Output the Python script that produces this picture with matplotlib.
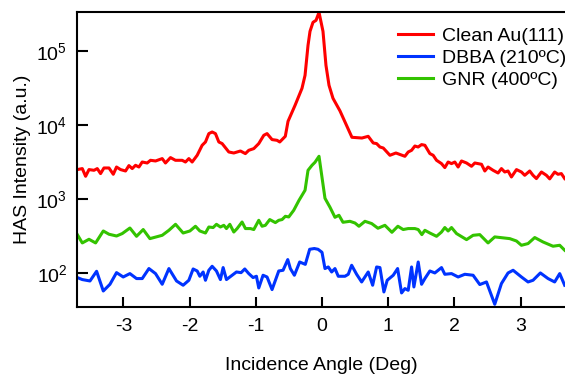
import numpy as np
import matplotlib
matplotlib.use("Agg")
import matplotlib.pyplot as plt
from matplotlib.ticker import LogLocator, NullLocator

plt.rcParams['font.family'] = ['Liberation Sans', 'DejaVu Sans']
plt.rcParams['axes.unicode_minus'] = False

# Clean Au(111)
au_x = [-3.695, -3.620, -3.570, -3.519, -3.443, -3.394, -3.344, -3.293, -3.217, -3.152,
        -3.103, -3.042, -2.967, -2.916, -2.866, -2.816, -2.765, -2.715, -2.640, -2.590,
        -2.514, -2.413, -2.364, -2.288, -2.213, -2.112, -2.062, -2.011, -1.961, -1.885,
        -1.810, -1.760, -1.709, -1.659, -1.609, -1.558, -1.508, -1.407, -1.332, -1.232,
        -1.157, -1.106, -1.030, -0.955, -0.879, -0.830, -0.754, -0.679, -0.638, -0.554,
        -0.513, -0.407, -0.302, -0.256, -0.211, -0.181, -0.136, -0.090, -0.045, 0.015,
        0.060, 0.106, 0.166, 0.271, 0.377, 0.452, 0.603, 0.698, 0.774, 0.825,
        0.875, 0.925, 1.026, 1.116, 1.252, 1.302, 1.353, 1.403, 1.452, 1.504,
        1.554, 1.629, 1.679, 1.730, 1.805, 1.855, 1.905, 1.956, 2.006, 2.056,
        2.107, 2.183, 2.258, 2.308, 2.409, 2.459, 2.508, 2.584, 2.659, 2.710,
        2.760, 2.810, 2.861, 2.937, 3.012, 3.062, 3.137, 3.187, 3.238, 3.314,
        3.389, 3.439, 3.514, 3.564, 3.615, 3.665]
au_y = [2520, 2600, 2045, 2520, 2465, 2600, 2225, 2650, 2650, 2178,
        2730, 2520, 2412, 2853, 2600, 2880, 2730, 3190, 3095, 3365,
        3295, 3548, 3095, 3660, 3365, 3365, 3190, 3548, 3190, 3933,
        5370, 5950, 7725, 8120, 7725, 5950, 5660, 4357, 4225, 4495,
        4145, 4593, 4842, 5660, 7325, 7725, 6410, 6270, 5950, 7100,
        11320, 18620, 31620, 47400, 120500, 186200, 246600, 262400, 336500, 186200,
        64700, 34750, 23170, 15700, 9690, 6885, 6730, 7100, 5765, 5660,
        5090, 4935, 3933, 4225, 3811, 4357, 4593, 5250, 5090, 5485,
        5370, 4145, 3933, 3365, 3035, 2682, 3190, 3035, 3190, 2730,
        3295, 3095, 2793, 3095, 2972, 2412, 2730, 2465, 2267, 2600,
        2338, 2412, 2002, 2520, 2338, 2110, 2412, 2110, 1905, 2338,
        2110, 1888, 2338, 2178, 2225, 1905]

# DBBA (210 C)
dbba_x = [-3.695, -3.620, -3.504, -3.404, -3.303, -3.202, -3.103, -3.002, -2.901, -2.801,
          -2.715, -2.614, -2.514, -2.413, -2.312, -2.197, -2.097, -2.011, -1.946, -1.885,
          -1.845, -1.795, -1.760, -1.709, -1.659, -1.594, -1.534, -1.493, -1.443, -1.357,
          -1.292, -1.222, -1.166, -1.106, -1.041, -0.990, -0.955, -0.890, -0.830, -0.754,
          -0.653, -0.588, -0.517, -0.478, -0.417, -0.337, -0.252, -0.186, -0.116, -0.060,
          0.0, 0.045, 0.095, 0.146, 0.196, 0.246, 0.347, 0.397, 0.448, 0.523,
          0.599, 0.698, 0.765, 0.825, 0.875, 0.935, 0.985, 1.076, 1.142, 1.202,
          1.252, 1.302, 1.353, 1.388, 1.453, 1.504, 1.554, 1.629, 1.704, 1.805,
          1.855, 1.956, 2.056, 2.157, 2.282, 2.383, 2.484, 2.609, 2.710, 2.810,
          2.886, 3.012, 3.112, 3.187, 3.298, 3.414, 3.514, 3.590, 3.665]
dbba_y = [87.5, 82.2, 78.7, 106.4, 57.6, 71.0, 102, 89.1, 99, 84.8,
          84.8, 115.8, 99, 71, 115.8, 78.7, 68.9, 80.4, 114.3, 107.4,
          91.1, 104.1, 80.4, 109.8, 124.3, 107.4, 82.2, 119.4, 82.2, 94,
          104.1, 102, 114.3, 99, 87.5, 91.1, 63.3, 94, 89.1, 60.2,
          107.4, 109.8, 153, 115.8, 94, 142, 132, 211, 216, 211,
          192, 115.8, 121.7, 104.1, 115.8, 91.1, 91.1, 96.9, 128.3, 96.9,
          76.3, 104.1, 68.9, 121.7, 119.4, 55.9, 80.4, 94, 115.8, 54.2,
          62.1, 58.9, 121.7, 65.3, 142, 71, 84.8, 107.4, 101, 119.4,
          96.9, 99, 89.1, 96.9, 94, 70.4, 76.3, 38.1, 72.6, 101,
          109.8, 89.1, 76.3, 80.4, 101, 84.8, 76.3, 99, 68.9]

# GNR (400 C)
gnr_x = [-3.695, -3.620, -3.519, -3.419, -3.303, -3.217, -3.103, -3.017, -2.901, -2.801,
         -2.700, -2.599, -2.413, -2.312, -2.212, -2.097, -1.995, -1.911, -1.845, -1.760,
         -1.709, -1.644, -1.594, -1.534, -1.483, -1.443, -1.392, -1.332, -1.282, -1.207,
         -1.156, -1.081, -1.030, -0.955, -0.905, -0.855, -0.789, -0.704, -0.653, -0.603,
         -0.553, -0.502, -0.427, -0.347, -0.256, -0.211, -0.151, -0.106, -0.045, 0.0,
         0.045, 0.121, 0.196, 0.256, 0.317, 0.422, 0.498, 0.558, 0.649, 0.750,
         0.845, 0.950, 1.056, 1.146, 1.226, 1.302, 1.403, 1.453, 1.508, 1.554,
         1.629, 1.730, 1.805, 1.855, 1.905, 1.956, 2.032, 2.183, 2.282, 2.383,
         2.508, 2.609, 2.836, 2.937, 3.012, 3.112, 3.213, 3.338, 3.489, 3.590, 3.665]
gnr_y = [333, 257, 288, 257, 373, 337, 319, 344, 409, 316,
         390, 294, 326, 381, 459, 350, 373, 432, 373, 350,
         422, 415, 459, 422, 445, 402, 459, 361, 402, 493,
         402, 402, 390, 520, 432, 445, 532, 484, 520, 532,
         589, 577, 710, 969, 1324, 2465, 2880, 3162, 3811, 1984,
         1032, 780, 571, 608, 489, 504, 478, 432, 504, 470,
         406, 445, 358, 432, 390, 402, 402, 390, 333, 381,
         350, 316, 361, 415, 373, 415, 344, 285, 326, 333,
         257, 310, 294, 273, 239, 252, 304, 265, 232, 239, 205]

labels = ['Clean Au(111)', 'DBBA (210ºC)', 'GNR (400ºC)']
colors = ['#ff0000', '#0033ff', '#33c300']

fig = plt.figure(figsize=(5.65, 3.74), dpi=100)
ax = fig.add_axes([77/565, 67/374, 488/565, 295/374])

ax.plot(au_x, au_y, color=colors[0], lw=2.2, label=labels[0])
ax.plot(dbba_x, dbba_y, color=colors[1], lw=2.2, label=labels[1])
ax.plot(gnr_x, gnr_y, color=colors[2], lw=2.2, label=labels[2])

ax.set_yscale('log')
ax.set_xlim(-3.7, 3.67)
ax.set_ylim(35, 3.4e5)
ax.yaxis.set_major_locator(LogLocator(base=10, numticks=10))
ax.yaxis.set_minor_locator(NullLocator())
ax.set_xticks([-3, -2, -1, 0, 1, 2, 3])

ax.spines['right'].set_visible(False)
for s in ['left', 'top', 'bottom']:
    ax.spines[s].set_linewidth(1.5)
ax.tick_params(axis='both', direction='in', labelsize=14, width=1.5)
ax.tick_params(axis='y', length=8, pad=7)
ax.tick_params(axis='x', length=7, pad=8)

ax.set_xlabel('Incidence Angle (Deg)', fontsize=14, labelpad=16)
ax.set_ylabel('HAS Intensity (a.u.)', fontsize=14, labelpad=4)

ax.legend(loc='upper right', frameon=False, fontsize=14, handlelength=1.8,
          handletextpad=0.5, labelspacing=0.22, borderaxespad=0.4,
          bbox_to_anchor=(1.035, 1.0))

fig.savefig('out.png', dpi=100)
